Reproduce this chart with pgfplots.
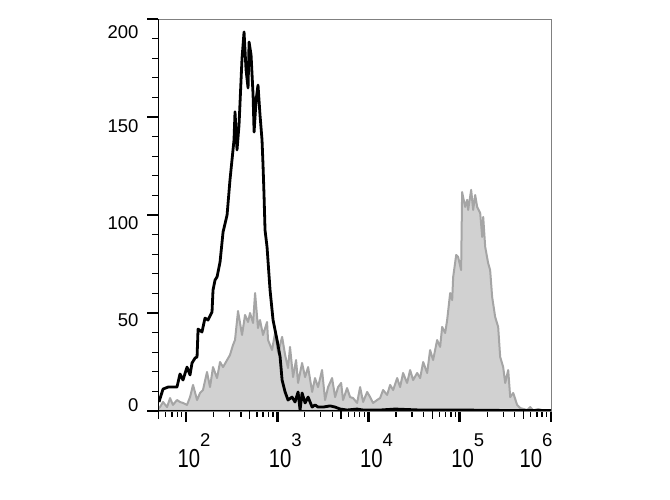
\documentclass[border=0pt]{standalone}
\usepackage{pgfplots}
\pgfplotsset{compat=1.18}
\usepackage{pgfplotstable}
\usepackage{fontspec}
\setmainfont{Liberation Sans}
\usepackage{graphicx}
\definecolor{histfill}{HTML}{D1D1D1}
\definecolor{histedge}{HTML}{A5A5A5}
\newcommand{\yl}[2]{\smash{\raisebox{#1}{#2}}\vphantom{0}}
\newcommand{\xl}[1]{\scalebox{0.78}[1]{\fontsize{26}{26}\selectfont 10}\raisebox{21pt}{\fontsize{18.5}{18.5}\selectfont #1}}

\pgfplotstableread{
e v
1.693 1.0
1.715 2.0
1.748 4.6
1.792 2.0
1.825 6.6
1.857 3.1
1.901 5.6
1.934 4.6
1.967 4.1
2.011 3.1
2.044 7.1
2.077 13.3
2.121 5.6
2.154 9.2
2.186 10.7
2.230 19.9
2.263 12.2
2.296 22.4
2.340 16.8
2.373 25.0
2.406 22.4
2.450 26.0
2.482 28.6
2.515 33.7
2.537 36.2
2.570 51.0
2.614 38.8
2.647 49.0
2.680 45.4
2.702 50.0
2.735 44.9
2.757 60.2
2.789 42.3
2.811 46.4
2.844 38.8
2.888 45.4
2.899 36.2
2.943 31.1
2.976 39.8
3.009 29.6
3.053 37.8
3.086 28.6
3.118 21.9
3.140 32.7
3.173 17.3
3.206 26.0
3.228 14.3
3.272 24.5
3.305 17.3
3.338 22.4
3.382 9.7
3.414 16.8
3.447 12.2
3.491 20.9
3.524 5.6
3.557 12.2
3.601 16.8
3.634 7.1
3.667 12.2
3.700 14.3
3.721 5.6
3.765 11.7
3.798 7.1
3.831 6.6
3.875 4.1
3.908 12.2
3.941 4.6
3.985 9.7
4.018 7.1
4.050 4.1
4.094 5.6
4.127 6.6
4.160 10.7
4.204 8.2
4.237 13.3
4.270 10.7
4.314 16.8
4.346 12.2
4.379 19.4
4.423 14.3
4.456 20.9
4.489 15.8
4.533 19.4
4.566 16.8
4.599 25.0
4.643 19.4
4.675 31.1
4.708 26.0
4.752 36.2
4.785 32.7
4.807 42.9
4.840 39.8
4.862 46.4
4.895 60.2
4.917 56.6
4.928 68.4
4.961 79.6
4.982 78.6
5.015 71.9
5.026 111.7
5.059 104.1
5.081 107.7
5.092 102.6
5.125 112.8
5.147 102.6
5.169 110.2
5.191 104.1
5.224 101.0
5.246 88.8
5.257 99.0
5.279 83.7
5.311 75.5
5.333 71.9
5.355 58.2
5.388 48.0
5.421 42.9
5.443 27.6
5.476 22.4
5.498 14.3
5.531 20.9
5.553 7.1
5.586 9.2
5.629 3.1
5.662 1.5
5.739 0.5
5.772 2.0
5.805 0.3
5.860 1.0
5.914 0.3
6.000 0.3
}\graydata

\pgfplotstableread{
e v
1.704 4.6
1.748 11.2
1.803 12.2
1.901 12.2
1.934 18.9
1.967 15.8
2.011 22.4
2.044 18.4
2.066 24.5
2.099 27.0
2.121 27.6
2.132 41.8
2.175 40.3
2.208 47.4
2.241 46.4
2.285 50.5
2.296 61.7
2.318 66.8
2.340 68.4
2.373 76.0
2.406 91.3
2.450 100.0
2.482 117.9
2.504 128.1
2.526 138.3
2.537 152.6
2.559 133.2
2.581 145.9
2.614 180.1
2.636 193.4
2.658 174.0
2.680 164.8
2.691 188.3
2.713 181.6
2.735 161.2
2.746 142.3
2.768 158.7
2.789 166.3
2.811 151.0
2.833 138.3
2.844 125.5
2.855 110.2
2.866 92.3
2.888 83.7
2.921 61.7
2.954 46.4
2.998 36.2
3.031 27.6
3.053 15.8
3.086 9.7
3.118 5.6
3.162 7.1
3.195 4.6
3.228 9.7
3.250 0.5
3.272 9.2
3.305 4.1
3.338 7.1
3.382 2.0
3.414 3.1
3.447 2.0
3.502 2.0
3.579 2.6
3.634 2.0
3.689 1.0
3.765 0.5
3.875 1.0
3.941 0.5
4.127 0.5
4.292 1.0
4.566 0.5
5.004 0.5
5.443 0.3
6.000 0.3
}\blackdata

\begin{document}
\begin{tikzpicture}[x=1pt,y=1pt]
\useasboundingbox (0,0) rectangle (670,500);
\begin{axis}[
  at={(158pt,89pt)}, anchor=south west,
  scale only axis, width=393pt, height=392pt,
  xmin=1.693, xmax=6, ymin=0, ymax=200,
  axis line style={draw=gray, line width=0.8pt},
  tick align=outside,
  xtick pos=bottom, ytick pos=left,
  xtick={2,3,4,5,6},
  xticklabels={\xl{2},\xl{3},\xl{4},\xl{5},{\kern-23pt\xl{6}\kern23pt}},
  xticklabel style={xshift=8pt, yshift=-8pt},
  minor xtick={1.778,1.845,1.903,1.954,
    2.301,2.477,2.602,2.778,2.845,2.903,2.954,
    3.301,3.477,3.602,3.778,3.845,3.903,3.954,
    4.301,4.477,4.602,4.778,4.845,4.903,4.954,
    5.301,5.477,5.602,5.778,5.845,5.903,5.954},
  extra x ticks={1.699,2.699,3.699,4.699,5.699},
  extra x tick labels={},
  extra x tick style={major tick length=8pt, major tick style={line width=1.4pt, black}},
  ytick={0,50,100,150,200},
  yticklabels={\yl{6pt}{0},\yl{-7pt}{50},\yl{-8pt}{100},\yl{-9pt}{150},\yl{-13pt}{200}},
  minor y tick num=4,
  yticklabel style={font=\fontsize{18.5}{19}\selectfont, xshift=-5pt},
  major tick length=11pt, minor tick length=6pt,
  major tick style={line width=2.6pt, black},
  minor tick style={line width=1.3pt, black},
  clip=true,
]
\addplot[draw=histedge, fill=histfill, line width=2pt, line join=round] table[x=e,y=v] {\graydata} \closedcycle;
\addplot[draw=black, line width=2.8pt, line join=round] table[x=e,y=v] {\blackdata};
\draw[line width=2.6pt, black] (rel axis cs:0,1) -- (rel axis cs:0,0) -- (rel axis cs:1,0);
\end{axis}
\end{tikzpicture}
\end{document}
